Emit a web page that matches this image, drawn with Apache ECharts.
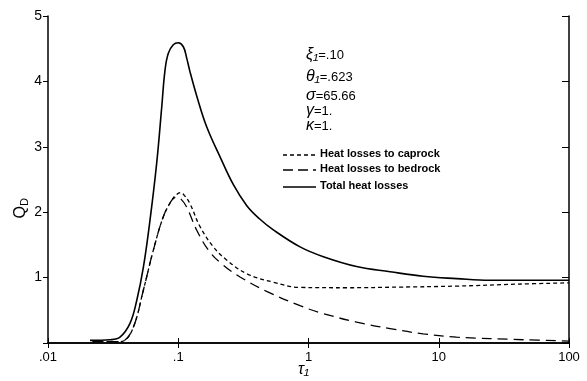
<!DOCTYPE html>
<html>
<head>
<meta charset="utf-8">
<script src="https://cdn.jsdelivr.net/npm/echarts@6/dist/echarts.min.js"></script>
<style>
  html, body { margin: 0; padding: 0; background: #fff; }
  #chart { width: 587px; height: 381px; }
</style>
</head>
<body>
<div id="chart"></div>
<script>
// tau_1 values and dimensionless heat loss rate q_D
const tauTotal = [0.021, 0.03, 0.0357, 0.0426, 0.048, 0.054, 0.0607, 0.0683, 0.0747, 0.0791, 0.0839, 0.0916, 0.1, 0.1094, 0.116, 0.123, 0.139, 0.165, 0.209, 0.265, 0.336, 0.42, 0.537, 0.861, 1.3, 2.34, 4.23, 7.6, 13.7, 24.7, 100]
const qTotal = [0.04, 0.05, 0.09, 0.30, 0.65, 1.16, 1.88, 2.75, 3.61, 4.17, 4.43, 4.56, 4.59, 4.53, 4.36, 4.15, 3.77, 3.31, 2.85, 2.42, 2.10, 1.90, 1.73, 1.47, 1.32, 1.17, 1.09, 1.02, 0.985, 0.96, 0.96]

const tauCap = [0.022, 0.035, 0.038, 0.0452, 0.054, 0.0644, 0.0768, 0.089, 0.097, 0.104, 0.112, 0.123, 0.147, 0.186, 0.235, 0.336, 0.537, 0.861, 2, 5, 13.7, 40, 100]
const qCap = [0.02, 0.02, 0.03, 0.24, 0.81, 1.42, 1.93, 2.18, 2.27, 2.30, 2.25, 2.13, 1.78, 1.47, 1.27, 1.06, 0.93, 0.85, 0.845, 0.855, 0.87, 0.90, 0.92]

const tauBed = [0.022, 0.035, 0.038, 0.0452, 0.054, 0.0644, 0.0768, 0.089, 0.097, 0.105, 0.116, 0.139, 0.175, 0.222, 0.298, 0.477, 0.861, 1.3, 2.34, 4.23, 7.6, 13.7, 44.6, 100]
const qBed = [0.02, 0.02, 0.03, 0.24, 0.81, 1.42, 1.93, 2.18, 2.23, 2.20, 2.08, 1.72, 1.39, 1.19, 1.01, 0.79, 0.57, 0.45, 0.32, 0.22, 0.14, 0.09, 0.05, 0.03]

const xTickLabels = { 0.01: '.01', 0.1: '.1', 1: '1', 10: '10', 100: '100' }
const paramSymbols = ['ξ₁', 'θ₁', 'σ', 'γ', 'κ']
const paramValues = ['=.10', '=.623', '=65.66', '=1.', '=1.']
const legendNames = ['Heat losses to caprock', 'Heat losses to bedrock', 'Total heat losses']

const zip = (xs, ys) => xs.map((x, i) => [x, ys[i]])
const FONT = 'Liberation Sans'

const chart = echarts.init(document.getElementById('chart'))

const axisLine = { lineStyle: { color: '#000', width: 1.5 } }

const xFmt = v => {
  const key = Number(v.toPrecision(3))
  return xTickLabels[key] !== undefined ? xTickLabels[key] : ''
}

const paramTop = [47, 69, 88, 103, 118]
const legendY = [155, 170, 187]
const legendDash = [[4, 3], [10, 5], null]

const graphic = []
paramSymbols.forEach((s, i) => {
  graphic.push({
    type: 'text', left: 306, top: paramTop[i],
    style: {
      text: '{g|' + s + '}{v|' + paramValues[i] + '}',
      rich: {
        g: { font: 'italic 16px ' + FONT, fill: '#000' },
        v: { font: '13px ' + FONT, fill: '#000' }
      }
    }
  })
})
legendNames.forEach((t, i) => {
  graphic.push({
    type: 'line',
    shape: { x1: 283, y1: legendY[i], x2: 316, y2: legendY[i] },
    style: { stroke: '#000', lineWidth: 1.3, lineDash: legendDash[i] }
  })
  graphic.push({
    type: 'text', left: 320, top: legendY[i] - 7,
    style: { text: t, font: 'bold 11px ' + FONT, fill: '#000' }
  })
})
graphic.push({
  type: 'text', left: 13, top: 198,
  rotation: Math.PI / 2, originX: 0, originY: 0,
  style: {
    text: '{q|Q}{d|D}',
    rich: {
      q: { font: '16px ' + FONT, fill: '#000', lineHeight: 18 },
      d: { font: '11px ' + FONT, fill: '#000', verticalAlign: 'bottom', lineHeight: 18 }
    }
  }
})
graphic.push({
  type: 'text', left: 298, top: 362,
  style: { text: 'τ₁', font: 'italic 16px ' + FONT, fill: '#000' }
})

const option = {
  animation: false,
  grid: { left: 48, right: 18, top: 16, bottom: 38 },
  xAxis: [
    {
      type: 'log', logBase: 10, min: 0.01, max: 100, position: 'bottom',
      axisLine,
      axisTick: { inside: true, length: 5, lineStyle: { color: '#000' } },
      minorTick: { show: false },
      splitLine: { show: false },
      axisLabel: { color: '#000', fontSize: 13, fontFamily: FONT, margin: 8, formatter: xFmt }
    },
    {
      type: 'log', logBase: 10, min: 0.01, max: 100, position: 'top',
      axisLine,
      axisTick: { inside: true, length: 5, lineStyle: { color: '#000' } },
      axisLabel: { show: false },
      splitLine: { show: false }
    }
  ],
  yAxis: [
    {
      type: 'value', min: 0, max: 5, interval: 1, position: 'left',
      axisLine,
      axisTick: { inside: false, length: 5, lineStyle: { color: '#000' } },
      splitLine: { show: false },
      axisLabel: { color: '#000', fontSize: 14, fontFamily: FONT, margin: 6, formatter: v => (v === 0 ? '' : String(v)) }
    },
    {
      type: 'value', min: 0, max: 5, interval: 1, position: 'right',
      axisLine,
      axisTick: { inside: true, length: 7, lineStyle: { color: '#000' } },
      splitLine: { show: false },
      axisLabel: { show: false }
    }
  ],
  series: [
    {
      name: legendNames[0], type: 'line', showSymbol: false, smooth: 0.4,
      lineStyle: { color: '#000', width: 1.3, type: [4, 3] },
      data: zip(tauCap, qCap)
    },
    {
      name: legendNames[1], type: 'line', showSymbol: false, smooth: 0.4,
      lineStyle: { color: '#000', width: 1.3, type: [10, 6] },
      data: zip(tauBed, qBed)
    },
    {
      name: legendNames[2], type: 'line', showSymbol: false, smooth: 0.4,
      lineStyle: { color: '#000', width: 1.6 },
      data: zip(tauTotal, qTotal)
    }
  ],
  graphic
}

chart.setOption(option)
</script>
</body>
</html>
